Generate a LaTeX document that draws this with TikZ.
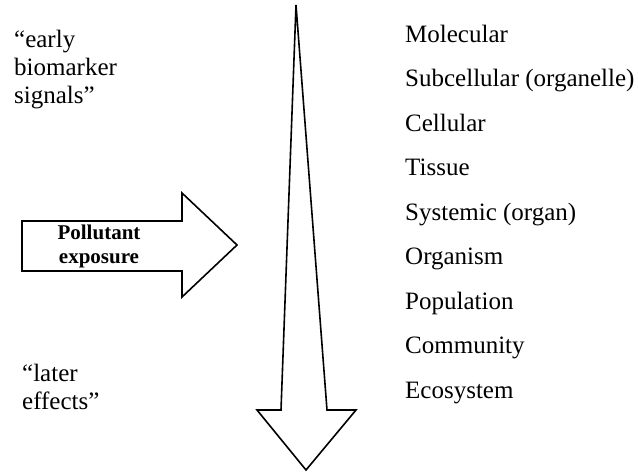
\documentclass[tikz,border=0pt]{standalone}
\usepackage{fontspec}
\setmainfont{Liberation Serif}
\usetikzlibrary{arrows.meta}

\begin{document}
\begin{tikzpicture}[x=1pt,y=-1pt,line join=miter,
    outline/.style={line width=1.6pt},
    level/.style={anchor=base west,inner sep=0pt,font=\fontsize{25}{28}\selectfont},
    note/.style={anchor=base west,inner sep=0pt,align=left,font=\fontsize{25}{28}\selectfont},
    expo/.style={inner sep=0pt,align=center,font=\fontsize{21}{24}\selectfont\bfseries}]
        \useasboundingbox (0,0) rectangle (638,472);
        % long downward arrow
        \draw[outline] (296,5) -- (327,410) -- (356,410) -- (306,470)
            -- (257,410) -- (281,410) -- cycle;
        % pollutant arrow
        \draw[outline] (22,221) -- (182,221) -- (182,193) -- (237,245)
            -- (182,297) -- (182,271) -- (22,271) -- cycle;
        \node[expo] (expo) at (99,246) {Pollutant\\exposure};
        \node[note] (early) at (14,103) {``early\\biomarker\\signals''};
        \node[note] (later) at (22,409) {``later\\effects''};
        \foreach \lbl [count=\i from 0] in {Molecular,Subcellular (organelle),Cellular,Tissue,
            Systemic (organ),Organism,Population,Community,Ecosystem}
            \node[level] (lvl\i) at (405,{42+44.5*\i}) {\lbl};
        \end{tikzpicture}
\end{document}
